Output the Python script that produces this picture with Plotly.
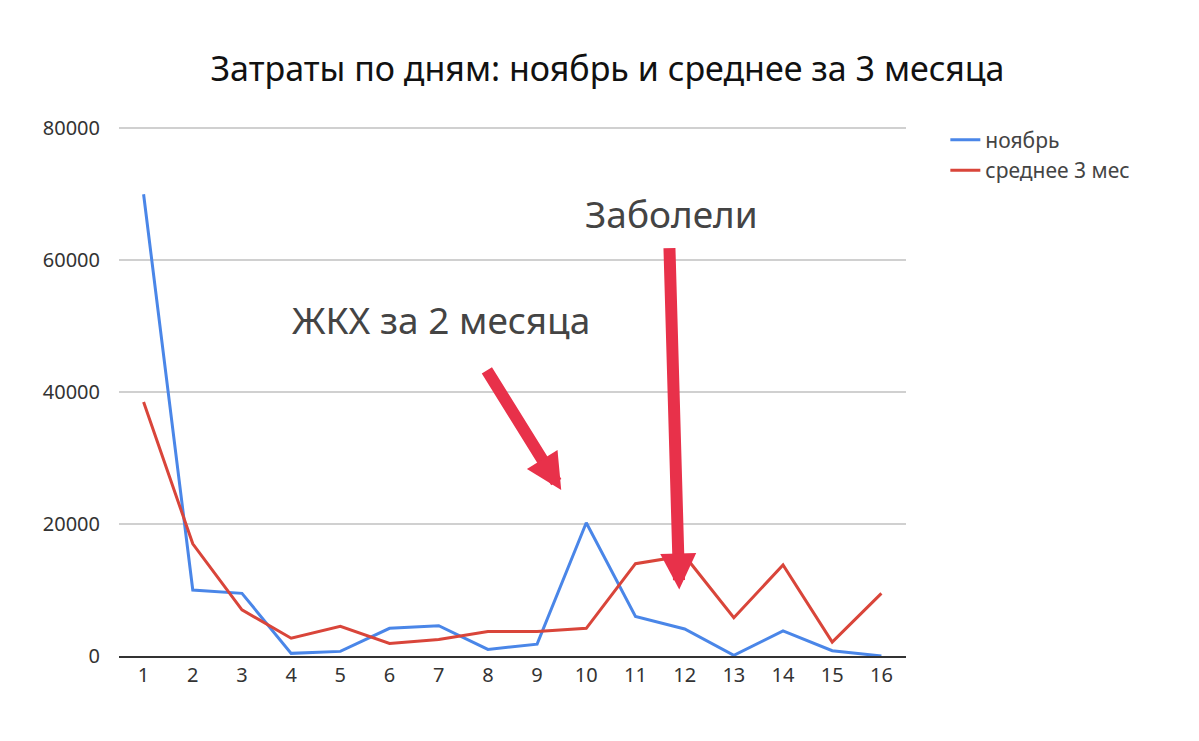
import plotly.graph_objects as go

days = list(range(1, 17))
nov = [70000, 10000, 9500, 400, 700, 4200, 4600, 1000, 1800, 20200, 6000, 4100, 100, 3800, 800, 0]
avg3 = [38500, 17000, 7000, 2700, 4500, 1900, 2500, 3700, 3700, 4200, 14000, 15200, 5800, 13800, 2100, 9500]
tick_vals = [0, 20000, 40000, 60000, 80000]

fig = go.Figure()
fig.add_trace(go.Scatter(x=days, y=nov, mode="lines", name="ноябрь",
                         line=dict(color="#4a86e8", width=3)))
fig.add_trace(go.Scatter(x=days, y=avg3, mode="lines", name="среднее 3 мес",
                         line=dict(color="#d9453a", width=3)))

font = "Noto Sans"
fig.update_layout(
    width=1199, height=741, plot_bgcolor="white", paper_bgcolor="white",
    margin=dict(l=111, r=301, t=117, b=93),
    title=dict(text="Затраты по дням: ноябрь и среднее за 3 месяца", x=0.5, xanchor="center",
               y=0.918, yanchor="middle", font=dict(family=font, size=34, color="#111")),
    font=dict(family=font, size=20, color="#444"),
    legend=dict(x=1.05, y=1.01, yanchor="top", xanchor="left", tracegroupgap=32,
                font=dict(size=21, color="#444")),
    showlegend=True,
)
fig.update_xaxes(range=[0.5, 16.5], tickvals=days, showgrid=False, showline=True,
                 linecolor="#333", linewidth=2, ticks="", tickfont=dict(size=20, color="#333"))
fig.update_yaxes(range=[0, 80500], tickvals=tick_vals, tickformat="d", showgrid=True,
                 gridcolor="#d0d0d0", gridwidth=1.5, zeroline=False, ticks="",
                 tickfont=dict(size=20, color="#333"), ticklabelstandoff=18)

red = "#e8314a"
for (tx, ty, hx, hy) in [(7.96, 43540, 9.49, 25160), (11.69, 62070, 11.89, 10090)]:
    fig.add_annotation(x=hx, y=hy, ax=tx, ay=ty, axref="x", ayref="y", xref="x", yref="y",
                       showarrow=True, arrowhead=2, arrowsize=0.6, arrowwidth=12,
                       arrowcolor=red, text="")

fig.add_annotation(x=(440 - 143) / 49.13 + 1, y=(657 - 318) / 531 * 80000, xref="x", yref="y",
                   text="ЖКХ за 2 месяца", showarrow=False,
                   font=dict(family=font, size=37, color="#444"))
fig.add_annotation(x=(670 - 143) / 49.13 + 1, y=(657 - 212) / 531 * 80000, xref="x", yref="y",
                   text="Заболели", showarrow=False,
                   font=dict(family=font, size=37, color="#444"))

fig.write_html("out.html")
